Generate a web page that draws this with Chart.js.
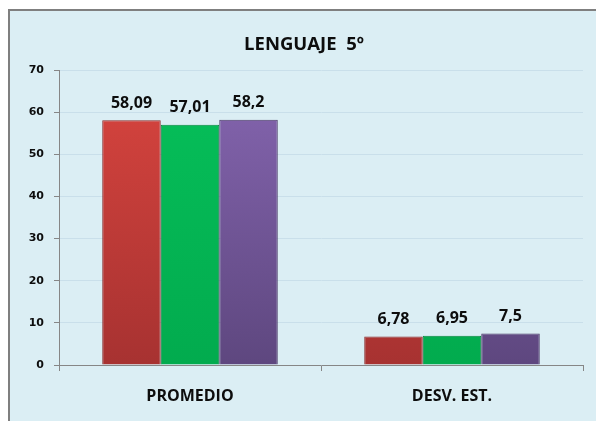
<!DOCTYPE html>
<html>
<head>
<meta charset="utf-8">
<script src="https://cdn.jsdelivr.net/npm/chart.js@4/dist/chart.umd.min.js"></script>
<style>
  html, body { margin: 0; padding: 0; background: #ffffff; }
  #frame {
    position: absolute; left: 8px; top: 9px;
    width: 586px; height: 410px;
    border-top: 2px solid #7f7f7f; border-left: 2px solid #7f7f7f;
    background: #dbeef4;
  }
</style>
</head>
<body>
<div id="frame"><canvas id="chart" width="586" height="410"></canvas></div>
<script>
// data
let categories = ["PROMEDIO", "DESV. EST."];
let serie1 = [58.09, 6.78];
let serie2 = [57.01, 6.95];
let serie3 = [58.2, 7.5];
let yTicks = [0, 10, 20, 30, 40, 50, 60, 70];

function vertical(top, bottom) {
    return function (context) {
        let area = context.chart.chartArea;
        if (!area) return top;
        let g = context.chart.ctx.createLinearGradient(0, area.top, 0, area.bottom);
        g.addColorStop(0, top);
        g.addColorStop(1, bottom);
        return g;
    };
}

// value labels over every bar, with decimal comma
const valueLabels = {
    id: "valueLabels",
    afterDatasetsDraw(chart) {
        let ctx = chart.ctx;
        ctx.save();
        ctx.font = "bold 16px 'Open Sans'";
        ctx.fillStyle = "#0d0d0d";
        ctx.textAlign = "center";
        ctx.textBaseline = "middle";
        chart.data.datasets.forEach((ds, i) => {
            chart.getDatasetMeta(i).data.forEach((bar, j) => {
                ctx.fillText(String(ds.data[j]).replace(".", ","), bar.x, bar.y - 17);
            });
        });
        ctx.restore();
    }
};

const titleText = {
    id: "titleText",
    afterDraw(chart) {
        let ctx = chart.ctx;
        ctx.save();
        ctx.font = "bold 18.5px 'Open Sans'";
        ctx.fillStyle = "#0d0d0d";
        ctx.textAlign = "center";
        ctx.textBaseline = "middle";
        ctx.fillText("LENGUAJE  5º", 294, 34);
        ctx.restore();
    }
};

new Chart(document.getElementById("chart").getContext("2d"), {
    type: "bar",
    data: {
        labels: categories,
        datasets: [
            { data: serie1, backgroundColor: vertical("#d9453f", "#a73231"), borderColor: "#8a2b29", borderWidth: 1 },
            { data: serie2, backgroundColor: vertical("#06c05a", "#02ab4e"), borderColor: "#04853d", borderWidth: 1 },
            { data: serie3, backgroundColor: vertical("#8666b1", "#5e477f"), borderColor: "#4a3866", borderWidth: 1 }
        ]
    },
    options: {
        responsive: false,
        animation: false,
        categoryPercentage: 0.67,
        barPercentage: 1,
        layout: { padding: { top: 59, right: 13, left: 0, bottom: 0 } },
        plugins: { legend: { display: false }, tooltip: { enabled: false } },
        scales: {
            x: {
                afterFit: s => { s.height = 56; },
                grid: { drawOnChartArea: false, tickLength: 6, color: "#868686", offset: true },
                border: { color: "#868686" },
                ticks: { color: "#0d0d0d", padding: 16, font: { family: "'Open Sans'", size: 16, weight: "bold" } }
            },
            y: {
                min: 0,
                max: 70,
                afterFit: s => { s.width = 49; },
                afterBuildTicks: s => { s.ticks = yTicks.map(v => ({ value: v })); },
                grid: { color: "#c9dfea", tickColor: "#868686", tickLength: 5 },
                border: { color: "#868686" },
                ticks: { color: "#0d0d0d", padding: 10, font: { family: "'DejaVu Sans'", size: 11, weight: "bold" } }
            }
        }
    },
    plugins: [valueLabels, titleText]
});
</script>
</body>
</html>
